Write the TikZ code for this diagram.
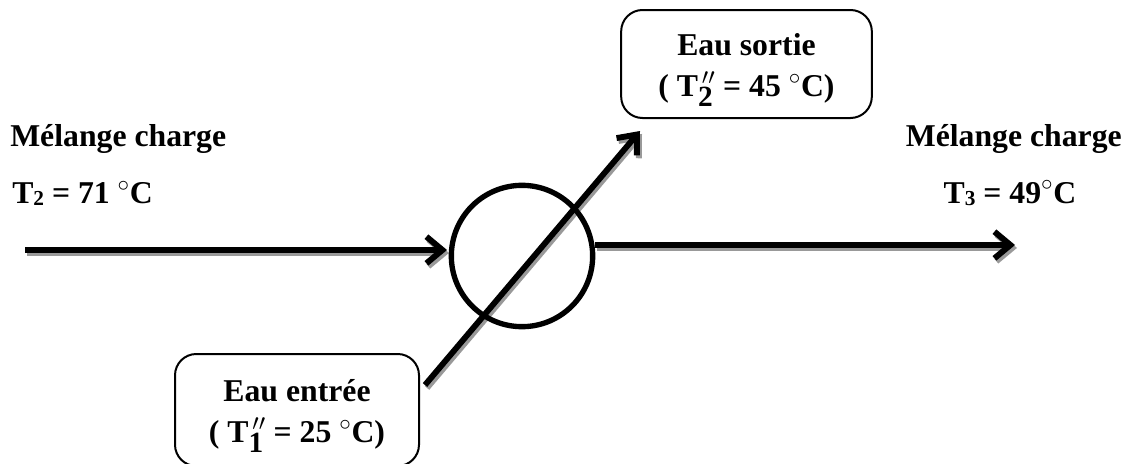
\documentclass[tikz,border=0pt]{standalone}
\usepackage{fontspec}
\setmainfont{Liberation Serif}
\usetikzlibrary{arrows.meta,positioning}
\newcommand{\Tsec}[1]{T\smash{$_{\mbox{\fontsize{22}{22}\bfseries\selectfont #1}}^{\,\prime\prime}$}}
\newcommand{\Tsub}[1]{T\raisebox{-1.5pt}{\fontsize{16}{16}\bfseries\selectfont #1}}
\newcommand{\Boxstrut}{\rule{0pt}{23pt}}
\tikzset{
    stream/.style={line width=4.4pt, -{Straight Barb[length=12pt, width=20pt, line width=4.4pt]}},
    streamshade/.style={stream, draw=gray!80, transform canvas={xshift=1.5pt, yshift=-2.2pt}},
    callout/.style={rectangle, rounded corners=16pt, draw, line width=1.5pt, fill=white, align=center, inner sep=0pt},
    label/.style={inner sep=0pt}
}

\begin{document}
\begin{tikzpicture}[x=0.75pt, y=-0.75pt, font=\fontsize{23.8}{31}\bfseries\selectfont]
    \useasboundingbox (0, 0) rectangle (1129, 464);

    % Boxes
    \node[callout, minimum width=188pt, minimum height=81pt] (out) at (746.5, 64) {\Boxstrut Eau sortie\\( \Tsec{2} = 45 $^\circ$C)};
    \node[callout, minimum width=183pt, minimum height=84pt] (in) at (297, 410) {\Boxstrut Eau entrée\\( \Tsec{1} = 25 $^\circ$C)};

    \node[label, anchor=west] (mixl) at (10, 139) {Mélange charge};
    \node[label, anchor=west] (templ) at (12, 193) {\Tsub{2} = 71 $^\circ$C};
    \node[label, anchor=east] (mixr) at (1122, 139) {Mélange charge};
    \node[label] (tempr) at (1010, 193) {\Tsub{3} = 49$^\circ$C};

    % Streams
    \coordinate (inl) at (25, 250);
    \coordinate (inr) at (447, 250);
    \coordinate (outl) at (595, 245);
    \coordinate (outr) at (1015, 245);
    \coordinate (dgl) at (425, 385);
    \coordinate (dgr) at (640, 131);
    \draw[streamshade] (inl) -- (inr);
    \draw[streamshade] (outl) -- (outr);
    \draw[streamshade] (dgl) -- (dgr);
    \draw[stream] (inl) -- (inr);
    \draw[stream] (outl) -- (outr);
    \draw[stream] (dgl) -- (dgr);

    % Exchanger
    \node[circle, draw, line width=4pt, minimum size=106pt, inner sep=0pt] (hx) at (522, 256) {};
\end{tikzpicture}
\end{document}
